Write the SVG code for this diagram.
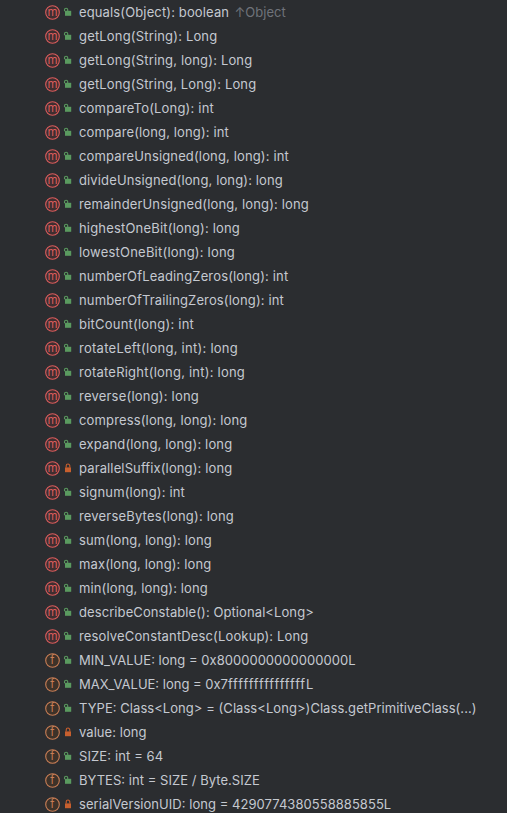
<svg xmlns="http://www.w3.org/2000/svg" width="507" height="813" viewBox="0 0 507 813">
<style>
text{font-family:Inter,"Noto Sans","Liberation Sans",sans-serif;font-size:13px;fill:#c5c9d0}
.g{fill:#6f737a}
.ic{font-size:11.5px;text-anchor:middle}
.m{fill:#db5c5c}
.f{fill:#c77d55}
</style>
<defs>
<g id="mi"><circle cx="52.5" cy="0.5" r="6.8" fill="#3f2e30" stroke="#db5c5c" stroke-width="1.1"/></g>
<g id="fi"><circle cx="52.5" cy="0.5" r="6.8" fill="#3d3229" stroke="#c77d55" stroke-width="1.1"/></g>
<g id="pub"><rect x="65" y="-1.2" width="6.2" height="5" fill="#5a9a5f"/><path d="M64.5 -0.8V-2.2a1.6 1.6 0 0 1 3.2 0V-1" fill="none" stroke="#5a9a5f" stroke-width="1.1"/></g>
<g id="pri"><rect x="65" y="-0.6" width="6" height="4.8" fill="#c75f2e"/><path d="M66.2 -0.6V-2.2a1.8 1.8 0 0 1 3.6 0V-0.6" fill="none" stroke="#c75f2e" stroke-width="1.1"/></g>
</defs>
<rect width="507" height="813" fill="#2b2d30"/>
<g id="row0" transform="translate(0,12)"><use href="#mi"/><text class="ic m" x="52.5" y="4">m</text><use href="#pub"/><text x="79" y="5" textLength="150">equals(Object): boolean</text><text class="g" x="234.5" y="5">↑Object</text></g>
<g id="row1" transform="translate(0,36)"><use href="#mi"/><text class="ic m" x="52.5" y="4">m</text><use href="#pub"/><text x="79" y="5" textLength="138.2">getLong(String): Long</text></g>
<g id="row2" transform="translate(0,60)"><use href="#mi"/><text class="ic m" x="52.5" y="4">m</text><use href="#pub"/><text x="79" y="5" textLength="173.2">getLong(String, long): Long</text></g>
<g id="row3" transform="translate(0,84)"><use href="#mi"/><text class="ic m" x="52.5" y="4">m</text><use href="#pub"/><text x="79" y="5" textLength="177.2">getLong(String, Long): Long</text></g>
<g id="row4" transform="translate(0,108)"><use href="#mi"/><text class="ic m" x="52.5" y="4">m</text><use href="#pub"/><text x="79" y="5" textLength="134.8">compareTo(Long): int</text></g>
<g id="row5" transform="translate(0,132)"><use href="#mi"/><text class="ic m" x="52.5" y="4">m</text><use href="#pub"/><text x="79" y="5" textLength="149.8">compare(long, long): int</text></g>
<g id="row6" transform="translate(0,156)"><use href="#mi"/><text class="ic m" x="52.5" y="4">m</text><use href="#pub"/><text x="79" y="5" textLength="209.8">compareUnsigned(long, long): int</text></g>
<g id="row7" transform="translate(0,180)"><use href="#mi"/><text class="ic m" x="52.5" y="4">m</text><use href="#pub"/><text x="79" y="5" textLength="203.8">divideUnsigned(long, long): long</text></g>
<g id="row8" transform="translate(0,204)"><use href="#mi"/><text class="ic m" x="52.5" y="4">m</text><use href="#pub"/><text x="79" y="5" textLength="229.8">remainderUnsigned(long, long): long</text></g>
<g id="row9" transform="translate(0,228)"><use href="#mi"/><text class="ic m" x="52.5" y="4">m</text><use href="#pub"/><text x="79" y="5" textLength="160.8">highestOneBit(long): long</text></g>
<g id="row10" transform="translate(0,252)"><use href="#mi"/><text class="ic m" x="52.5" y="4">m</text><use href="#pub"/><text x="79" y="5" textLength="155.8">lowestOneBit(long): long</text></g>
<g id="row11" transform="translate(0,276)"><use href="#mi"/><text class="ic m" x="52.5" y="4">m</text><use href="#pub"/><text x="79" y="5" textLength="209.2">numberOfLeadingZeros(long): int</text></g>
<g id="row12" transform="translate(0,300)"><use href="#mi"/><text class="ic m" x="52.5" y="4">m</text><use href="#pub"/><text x="79" y="5" textLength="204.8">numberOfTrailingZeros(long): int</text></g>
<g id="row13" transform="translate(0,324)"><use href="#mi"/><text class="ic m" x="52.5" y="4">m</text><use href="#pub"/><text x="79" y="5" textLength="114.8">bitCount(long): int</text></g>
<g id="row14" transform="translate(0,348)"><use href="#mi"/><text class="ic m" x="52.5" y="4">m</text><use href="#pub"/><text x="79" y="5" textLength="158.8">rotateLeft(long, int): long</text></g>
<g id="row15" transform="translate(0,372)"><use href="#mi"/><text class="ic m" x="52.5" y="4">m</text><use href="#pub"/><text x="79" y="5" textLength="165.8">rotateRight(long, int): long</text></g>
<g id="row16" transform="translate(0,396)"><use href="#mi"/><text class="ic m" x="52.5" y="4">m</text><use href="#pub"/><text x="79" y="5" textLength="119.8">reverse(long): long</text></g>
<g id="row17" transform="translate(0,420)"><use href="#mi"/><text class="ic m" x="52.5" y="4">m</text><use href="#pub"/><text x="79" y="5" textLength="168.2">compress(long, long): long</text></g>
<g id="row18" transform="translate(0,444)"><use href="#mi"/><text class="ic m" x="52.5" y="4">m</text><use href="#pub"/><text x="79" y="5" textLength="153.2">expand(long, long): long</text></g>
<g id="row19" transform="translate(0,468)"><use href="#mi"/><text class="ic m" x="52.5" y="4">m</text><use href="#pri"/><text x="79" y="5" textLength="153.2">parallelSuffix(long): long</text></g>
<g id="row20" transform="translate(0,492)"><use href="#mi"/><text class="ic m" x="52.5" y="4">m</text><use href="#pub"/><text x="79" y="5" textLength="105.8">signum(long): int</text></g>
<g id="row21" transform="translate(0,516)"><use href="#mi"/><text class="ic m" x="52.5" y="4">m</text><use href="#pub"/><text x="79" y="5" textLength="154.8">reverseBytes(long): long</text></g>
<g id="row22" transform="translate(0,540)"><use href="#mi"/><text class="ic m" x="52.5" y="4">m</text><use href="#pub"/><text x="79" y="5" textLength="132.8">sum(long, long): long</text></g>
<g id="row23" transform="translate(0,564)"><use href="#mi"/><text class="ic m" x="52.5" y="4">m</text><use href="#pub"/><text x="79" y="5" textLength="132.2">max(long, long): long</text></g>
<g id="row24" transform="translate(0,588)"><use href="#mi"/><text class="ic m" x="52.5" y="4">m</text><use href="#pub"/><text x="79" y="5" textLength="128.8">min(long, long): long</text></g>
<g id="row25" transform="translate(0,612)"><use href="#mi"/><text class="ic m" x="52.5" y="4">m</text><use href="#pub"/><text x="79" y="5" textLength="234.8">describeConstable(): Optional&lt;Long&gt;</text></g>
<g id="row26" transform="translate(0,636)"><use href="#mi"/><text class="ic m" x="52.5" y="4">m</text><use href="#pub"/><text x="79" y="5" textLength="229.2">resolveConstantDesc(Lookup): Long</text></g>
<g id="row27" transform="translate(0,660)"><use href="#fi"/><text class="ic f" x="52.5" y="4">f</text><use href="#pub"/><text x="79" y="5" textLength="276.5">MIN_VALUE: long = 0x8000000000000000L</text></g>
<g id="row28" transform="translate(0,684)"><use href="#fi"/><text class="ic f" x="52.5" y="4">f</text><use href="#pub"/><text x="79" y="5">MAX_VALUE: long = 0x7<tspan letter-spacing="0.87">fffffffffffffff</tspan>L</text></g>
<g id="row29" transform="translate(0,708)"><use href="#fi"/><text class="ic f" x="52.5" y="4">f</text><use href="#pub"/><text x="79" y="5" textLength="397.5">TYPE: Class&lt;Long&gt; = (Class&lt;Long&gt;)Class.getPrimitiveClass(...)</text></g>
<g id="row30" transform="translate(0,732)"><use href="#fi"/><text class="ic f" x="52.5" y="4">f</text><use href="#pri"/><text x="79" y="5" textLength="67.5">value: long</text></g>
<g id="row31" transform="translate(0,756)"><use href="#fi"/><text class="ic f" x="52.5" y="4">f</text><use href="#pub"/><text x="79" y="5" textLength="84.2">SIZE: int = 64</text></g>
<g id="row32" transform="translate(0,780)"><use href="#fi"/><text class="ic f" x="52.5" y="4">f</text><use href="#pub"/><text x="79" y="5" textLength="180.8">BYTES: int = SIZE / Byte.SIZE</text></g>
<g id="row33" transform="translate(0,804)"><use href="#fi"/><text class="ic f" x="52.5" y="4">f</text><use href="#pri"/><text x="79" y="5" textLength="312.2">serialVersionUID: long = 4290774380558885855L</text></g>
</svg>
